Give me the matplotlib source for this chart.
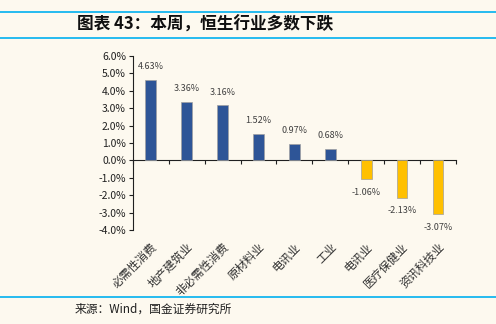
import matplotlib
matplotlib.use("Agg")
import matplotlib.pyplot as plt
import numpy as np
from matplotlib.lines import Line2D

plt.rcParams['font.family'] = ['Noto Sans CJK SC', 'DejaVu Sans']

categories = ["必需性消费", "地产建筑业", "非必需性消费", "原材料业", "电讯业",
              "工业", "电讯业", "医疗保健业", "资讯科技业"]
values = [4.63, 3.36, 3.16, 1.52, 0.97, 0.68, -1.06, -2.13, -3.07]
yticks = [-4, -3, -2, -1, 0, 1, 2, 3, 4, 5, 6]
title = "图表 43：本周，恒生行业多数下跌"
source = "来源：Wind，国金证券研究所"

bg = "#FDF9EF"
fig = plt.figure(figsize=(4.96, 3.24), dpi=100, facecolor=bg)
ax = fig.add_axes([0.268, 0.290, 0.651, 0.537])
ax.set_facecolor(bg)

x = np.arange(len(categories))
colors = ["#2E5597" if v >= 0 else "#FFC000" for v in values]
ax.bar(x, values, width=0.3, color=colors, edgecolor="#A0A0A0", linewidth=0.5, zorder=3)

for xi, v in zip(x, values):
    if v >= 0:
        ax.annotate(f"{v:.2f}%", (xi, v), xytext=(0, 9.5), textcoords="offset points",
                    ha="center", va="center", fontsize=6.5, color="#404040")
    else:
        ax.annotate(f"{v:.2f}%", (xi, v), xytext=(0, -9.5), textcoords="offset points",
                    ha="center", va="center", fontsize=6.5, color="#404040")

ax.set_xlim(-0.5, len(categories) - 0.5)
ax.set_ylim(-4, 6)
ax.set_yticks(yticks)
ax.set_yticklabels([f"{t:.1f}%" for t in yticks], fontsize=7.5, color="#202020")
ax.tick_params(axis="y", direction="out", length=3, width=0.8, color="#202020", pad=2)

for s in ["top", "right"]:
    ax.spines[s].set_visible(False)
ax.spines["left"].set_color("#202020")
ax.spines["left"].set_linewidth(0.8)
ax.spines["bottom"].set_position(("data", 0))
ax.spines["bottom"].set_color("#202020")
ax.spines["bottom"].set_linewidth(0.8)
ax.set_xticks([])
ax.set_xticks(np.arange(-0.5, len(categories)), minor=True)
ax.tick_params(axis="x", which="minor", direction="out", length=3, width=0.8,
               color="#202020", labelbottom=False)

for xi, c in zip(x, categories):
    ax.text(xi, -0.06, c, transform=ax.get_xaxis_transform(), rotation=45,
            ha="right", va="top", fontsize=8.3, color="#303030", rotation_mode="anchor")

# decorative frame lines
fig.add_artist(Line2D([0, 1], [1 - 12 / 324] * 2, color="#00B0F0", lw=1.2, transform=fig.transFigure))
fig.add_artist(Line2D([0, 1], [1 - 38 / 324] * 2, color="#00B0F0", lw=1.2, transform=fig.transFigure))
fig.add_artist(Line2D([0, 1], [1 - 297 / 324] * 2, color="#00B0F0", lw=1.2, transform=fig.transFigure))

fig.text(77 / 496, 1 - 25 / 324, title, fontsize=12, fontweight="bold", fontstyle="italic",
         ha="left", va="center", color="#101010")
fig.text(75 / 496, 1 - 309 / 324, source, fontsize=8.5, ha="left", va="center", color="#202020")

fig.savefig("out.png", dpi=100, facecolor=bg)
